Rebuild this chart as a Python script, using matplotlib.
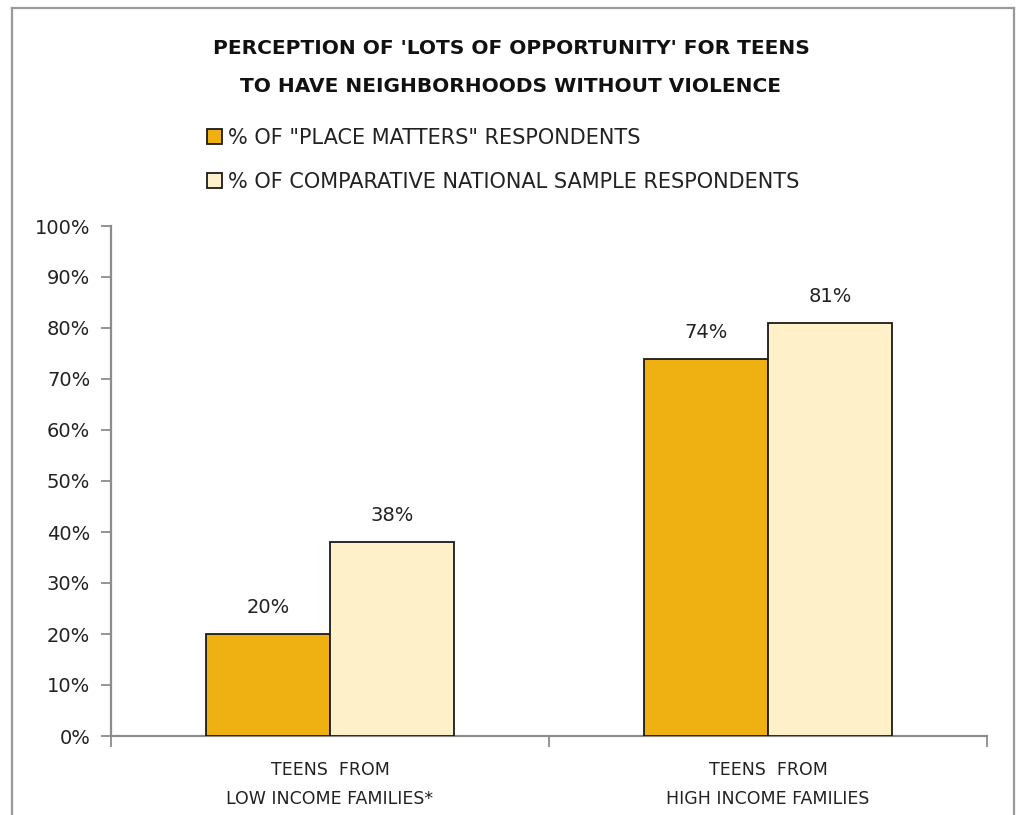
import matplotlib
matplotlib.use("Agg")
import matplotlib.pyplot as plt
from matplotlib.patches import Patch
import numpy as np

categories = ["TEENS  FROM\nLOW INCOME FAMILIES*", "TEENS  FROM\nHIGH INCOME FAMILIES"]
series_names = ['% OF "PLACE MATTERS" RESPONDENTS',
                "% OF COMPARATIVE NATIONAL SAMPLE RESPONDENTS"]
place_matters = [20, 74]
national_sample = [38, 81]
y_ticks = [0, 10, 20, 30, 40, 50, 60, 70, 80, 90, 100]
title_lines = ["PERCEPTION OF 'LOTS OF OPPORTUNITY' FOR TEENS",
               "TO HAVE NEIGHBORHOODS WITHOUT VIOLENCE"]

GOLD = "#EEB111"
CREAM = "#FEF0C8"
AXIS_GREY = "#8c8c8c"
TEXT = "#222222"
FONT = "DejaVu Sans"

W, H = 1018, 815
fig = plt.figure(figsize=(W / 100, H / 100), dpi=100)
fig.patch.set_facecolor("white")

# outer frame (left, top, right edges)
frame = dict(color="#999999", lw=1.6)
fig.add_artist(plt.Line2D([12 / W, 12 / W], [0, 1 - 8 / H], **frame))
fig.add_artist(plt.Line2D([12 / W, 1014 / W], [1 - 8 / H, 1 - 8 / H], **frame))
fig.add_artist(plt.Line2D([1014 / W, 1014 / W], [0, 1 - 8 / H], **frame))

ax = fig.add_axes([111 / W, (H - 736) / H, (987 - 111) / W, (736 - 226) / H])

x = np.arange(len(categories))
bw = 0.283
b1 = ax.bar(x - bw / 2, place_matters, bw, color=GOLD, edgecolor="#1a1a1a", linewidth=1.3, zorder=3)
b2 = ax.bar(x + bw / 2, national_sample, bw, color=CREAM, edgecolor="#1a1a1a", linewidth=1.3, zorder=3)

num_font = dict(family=FONT, size=14, color=TEXT)
for bars, vals in ((b1, place_matters), (b2, national_sample)):
    for rect, v in zip(bars, vals):
        ax.annotate(f"{v}%", (rect.get_x() + rect.get_width() / 2, v),
                    xytext=(0, 17), textcoords="offset pixels",
                    ha="center", va="bottom", **num_font)

ax.set_xlim(-0.5, len(categories) - 0.5)
ax.set_ylim(0, 100)
ax.set_yticks(y_ticks)
ax.set_yticklabels([f"{t}%" for t in y_ticks], **num_font)
ax.tick_params(axis="y", length=7, width=1.3, color=AXIS_GREY, pad=8, direction="out")

# category boundaries as x ticks, labels as minor ticks at centers
ax.set_xticks(np.arange(len(categories) + 1) - 0.5)
ax.set_xticklabels([])
ax.tick_params(axis="x", which="major", length=8, width=1.3, color=AXIS_GREY, direction="out")
ax.set_xticks(x, minor=True)
ax.set_xticklabels(categories, minor=True, family=FONT,
                   size=12.5, color=TEXT, linespacing=1.75)
ax.tick_params(axis="x", which="minor", length=0, pad=18)

for s in ("top", "right"):
    ax.spines[s].set_visible(False)
for s in ("left", "bottom"):
    ax.spines[s].set_color(AXIS_GREY)
    ax.spines[s].set_linewidth(1.6)

for i, line in enumerate(title_lines):
    fig.text(511 / W, 1 - (48 + 39 * i) / H, line, ha="center", va="center",
             family=FONT, weight="bold", size=14.5, color="#111111")

handles = [Patch(facecolor=GOLD, edgecolor="#1a1a1a", linewidth=1.3),
           Patch(facecolor=CREAM, edgecolor="#1a1a1a", linewidth=1.3)]
fig.legend(handles, series_names, loc="upper left",
           bbox_to_anchor=(207 / W, 1 - 128 / H), frameon=False,
           handlelength=0.7, handleheight=0.7, handletextpad=0.3,
           labelspacing=1.15, prop=dict(family=FONT, size=15),
           labelcolor=TEXT, borderaxespad=0, borderpad=0)

fig.savefig("out.png", dpi=100, facecolor="white")
